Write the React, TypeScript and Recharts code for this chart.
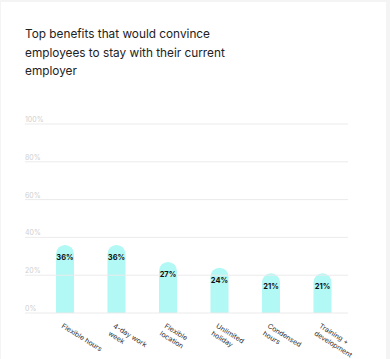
import React from 'react';
import { BarChart, Bar, XAxis, YAxis, LabelList } from 'recharts';

const benefits = [
  'Flexible hours',
  '4-day work week',
  'Flexible location',
  'Unlimited holiday',
  'Condensed hours',
  'Training + development',
];
const benefitLines = [
  ['Flexible hours'],
  ['4-day work', 'week'],
  ['Flexible', 'location'],
  ['Unlimited', 'holiday'],
  ['Condensed', 'hours'],
  ['Training +', 'development'],
];
const shares = [36, 36, 27, 24, 21, 21];
const yTicks = [0, 20, 40, 60, 80, 100];

const data = benefits.map((name, i) => ({ name, lines: benefitLines[i], value: shares[i] }));

const FONT = 'Inter, "Noto Sans", sans-serif';

function YTick({ y, payload }: any) {
  return (
    <g>
      <line x1={25} x2={348} y1={y} y2={y} stroke="#ebebeb" strokeWidth={1} />
      <text x={25} y={y - 2} fontSize={7} fill="#cfcfcf" fontFamily={FONT}>
        {payload.value}%
      </text>
    </g>
  );
}

function XTick({ x, y, index }: any) {
  const lines = benefitLines[index] || [];
  return (
    <g transform={`translate(${x - 1}, ${y + 2})`}>
      <text transform="rotate(32)" fontSize={7} fill="#333" fontFamily={FONT} textAnchor="start">
        {lines.map((l, i) => (
          <tspan key={i} x={0} dy={i === 0 ? '0.71em' : 9}>
            {l}
          </tspan>
        ))}
      </text>
    </g>
  );
}

export default function App() {
  return (
    <div style={{ position: 'relative', width: 390, height: 359, background: '#f4f4f4', overflow: 'hidden' }}>
      <style>{'body{margin:0}'}</style>
      <div style={{ position: 'absolute', left: 1, top: 2, width: 385, height: 357, background: '#fff' }} />
      <div
        style={{
          position: 'absolute',
          left: 25,
          top: 25,
          fontFamily: FONT,
          fontSize: 11.8,
          lineHeight: '18.5px',
          color: '#222',
          whiteSpace: 'nowrap',
        }}
      >
        Top benefits that would convince
        <br />
        employees to stay with their current
        <br />
        employer
      </div>
      <div style={{ position: 'absolute', left: 0, top: 0 }}>
        <BarChart width={390} height={359} data={data} margin={{ top: 124, right: 42, bottom: 0, left: 25 }}>
          <YAxis
            domain={[0, 100]}
            ticks={yTicks}
            width={14}
            axisLine={false}
            tickLine={false}
            tick={<YTick />}
            interval={0}
          />
          <XAxis dataKey="name" height={46} axisLine={false} tickLine={false} tick={<XTick />} interval={0} />
          <Bar dataKey="value" fill="#b2f8f4" barSize={18} radius={[9, 9, 0, 0]} isAnimationActive={false}>
            <LabelList
              dataKey="value"
              position="insideTop"
              offset={10}
              formatter={(v: any) => `${v}%`}
              fontSize={7.5}
              fontWeight={700}
              fill="#111"
              fontFamily={FONT}
            />
          </Bar>
        </BarChart>
      </div>
    </div>
  );
}
